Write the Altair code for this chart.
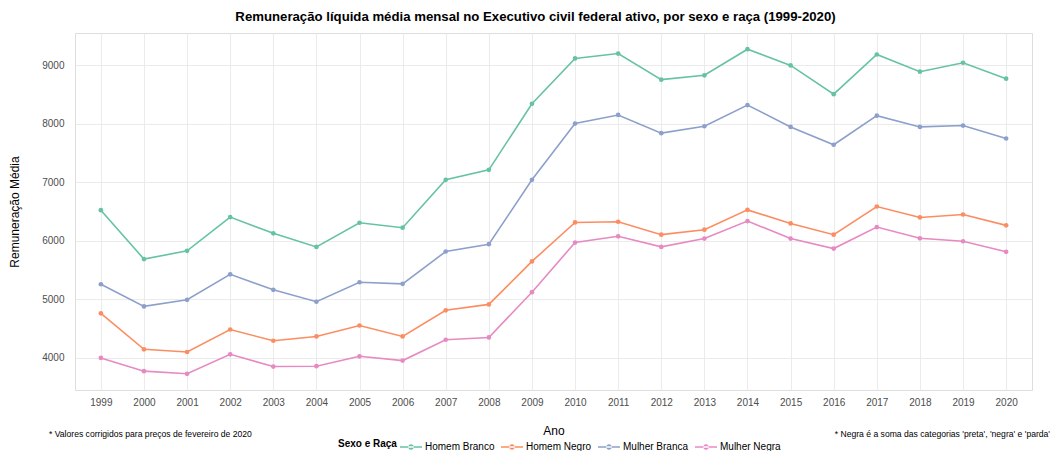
import altair as alt
import pandas as pd

years = list(range(1999, 2021))
series_names = ["Homem Branco", "Homem Negro", "Mulher Branca", "Mulher Negra"]
homem_branco = [6525, 5689, 5831, 6407, 6130, 5898, 6311, 6226, 7045, 7215, 8345,
                9119, 9203, 8757, 8831, 9277, 9000, 8508, 9186, 8893, 9045, 8774]
homem_negro = [4763, 4147, 4102, 4486, 4294, 4367, 4554, 4367, 4814, 4915, 5650,
               6316, 6328, 6107, 6192, 6531, 6299, 6107, 6588, 6401, 6452, 6266]
mulher_branca = [5260, 4881, 4994, 5429, 5164, 4960, 5294, 5266, 5819, 5944, 7045,
                 8006, 8153, 7842, 7960, 8322, 7949, 7644, 8141, 7949, 7972, 7751]
mulher_negra = [4000, 3774, 3729, 4062, 3853, 3859, 4028, 3955, 4311, 4350, 5124,
                5972, 6079, 5898, 6040, 6339, 6040, 5870, 6237, 6045, 5994, 5814]
colors = ["#66c2a5", "#fc8d62", "#8da0cb", "#e78ac3"]
y_ticks = [4000, 5000, 6000, 7000, 8000, 9000]
title_text = "Remuneração líquida média mensal no Executivo civil federal ativo, por sexo e raça (1999-2020)"
caption_left = ["* Valores corrigidos para preços de fevereiro de 2020"]
caption_right = ["* Negra é a soma das categorias 'preta', 'negra' e 'parda'"]

rows = []
for name, vals in zip(series_names, [homem_branco, homem_negro, mulher_branca, mulher_negra]):
    for yr, v in zip(years, vals):
        rows.append({"Ano": str(yr), "Remuneracao": v, "Sexo e Raça": name})
df = pd.DataFrame(rows)

FONT = "Liberation Sans"
W, H = 957, 357

legend_path = ("M-1,-0.06L1,-0.06L1,0.06L-1,0.06Z "
               "M-0.25,0A0.25,0.25 0 1,0 0.25,0A0.25,0.25 0 1,0 -0.25,0Z")

color = alt.Color(
    "Sexo e Raça:N",
    scale=alt.Scale(domain=series_names, range=colors),
    legend=alt.Legend(
        orient="none", legendX=263, legendY=403, direction="horizontal",
        titleOrient="left", title="Sexo e Raça", titleFontWeight="bold",
        titleFontSize=10, titleFont=FONT, titleColor="#000000", titlePadding=3,
        labelFont=FONT, labelFontSize=10, labelColor="#000000", labelOffset=3,
        symbolType=legend_path, symbolSize=484, symbolStrokeWidth=0,
        columnPadding=6, padding=0,
    ),
)

x = alt.X(
    "Ano:O",
    scale=alt.Scale(type="point", padding=0.6),
    axis=alt.Axis(title="Ano", labelAngle=0, ticks=False, domain=False,
                  grid=True, gridColor="#ebebeb", labelColor="#4d4d4d",
                  labelFontSize=10, labelFont=FONT, labelPadding=7,
                  titleFont=FONT, titleFontSize=12, titleFontWeight="normal",
                  titleColor="#000000", titlePadding=18),
)
y = alt.Y(
    "Remuneracao:Q",
    scale=alt.Scale(domain=[3452, 9554], nice=False, zero=False),
    axis=alt.Axis(title="Remuneração Média", values=y_ticks, format="d",
                  ticks=False, domain=False, grid=True, gridColor="#ebebeb",
                  labelColor="#4d4d4d", labelFontSize=10, labelFont=FONT,
                  labelPadding=11, titleFont=FONT, titleFontSize=12,
                  titleFontWeight="normal", titleColor="#000000",
                  titlePadding=20),
)

base = alt.Chart(df)
lines = base.mark_line(strokeWidth=1.6).encode(x=x, y=y, color=color)
points = base.mark_circle(size=22, opacity=1).encode(x=x, y=y, color=color)

cap_l = alt.Chart(pd.DataFrame({"t": caption_left})).mark_text(
    align="left", baseline="middle", font=FONT, fontSize=8.6, color="#000000"
).encode(text="t:N", x=alt.value(-26), y=alt.value(401))
cap_r = alt.Chart(pd.DataFrame({"t": caption_right})).mark_text(
    align="right", baseline="middle", font=FONT, fontSize=8.6, color="#000000"
).encode(text="t:N", x=alt.value(975), y=alt.value(401))

chart = alt.layer(lines, points, cap_l, cap_r).properties(
    width=W, height=H,
    title=alt.TitleParams(title_text, font=FONT, fontSize=13.2, fontWeight="bold",
                          color="#000000", anchor="middle", dx=-18, offset=9),
    autosize=alt.AutoSizeParams(type="none"),
    padding={"left": 67, "top": 25, "right": 19, "bottom": 61},
).configure_view(stroke=None).configure(background="white")

chart.save("out.html", embed_options={"renderer": "svg", "actions": False})
